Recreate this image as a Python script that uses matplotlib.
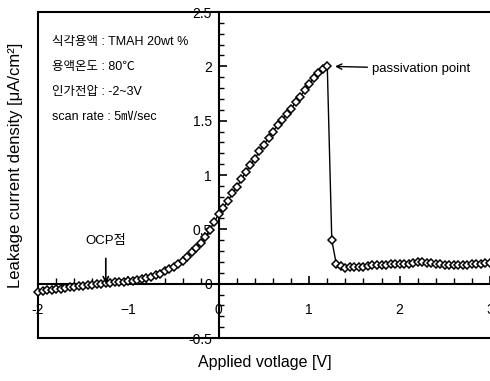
import matplotlib
matplotlib.use('Agg')
import matplotlib.pyplot as plt
from matplotlib.ticker import MultipleLocator

plt.rcParams['font.family'] = ['Liberation Sans', 'Noto Sans CJK KR', 'DejaVu Sans']

# scan voltage [V]
voltage = [
    -2.00, -1.95, -1.90, -1.85, -1.80, -1.75, -1.70, -1.65, -1.60, -1.55,
    -1.50, -1.45, -1.40, -1.35, -1.30, -1.25, -1.20, -1.15, -1.10, -1.05,
    -1.00, -0.95, -0.90, -0.85, -0.80, -0.75, -0.70, -0.65, -0.60, -0.55,
    -0.50, -0.45, -0.40, -0.35, -0.30, -0.25, -0.20, -0.15, -0.10, -0.05,
    0.00, 0.05, 0.10, 0.15, 0.20, 0.25, 0.30, 0.35, 0.40, 0.45,
    0.50, 0.55, 0.60, 0.65, 0.70, 0.75, 0.80, 0.85, 0.90, 0.95,
    1.00, 1.05, 1.10, 1.15, 1.20, 1.25, 1.30, 1.35, 1.40, 1.45,
    1.50, 1.55, 1.60, 1.65, 1.70, 1.75, 1.80, 1.85, 1.90, 1.95,
    2.00, 2.05, 2.10, 2.15, 2.20, 2.25, 2.30, 2.35, 2.40, 2.45,
    2.50, 2.55, 2.60, 2.65, 2.70, 2.75, 2.80, 2.85, 2.90, 2.95,
    3.00,
]

# leakage current density
current = [
    -0.080, -0.070, -0.062, -0.056, -0.050, -0.045, -0.040, -0.035, -0.030, -0.025,
    -0.020, -0.015, -0.010, -0.005, 0.000, 0.004, 0.008, 0.011, 0.014, 0.018,
    0.022, 0.027, 0.033, 0.042, 0.052, 0.063, 0.077, 0.093, 0.112, 0.133,
    0.157, 0.183, 0.213, 0.250, 0.290, 0.330, 0.378, 0.430, 0.495, 0.570,
    0.640, 0.700, 0.760, 0.830, 0.890, 0.960, 1.030, 1.090, 1.150, 1.220,
    1.280, 1.340, 1.400, 1.460, 1.510, 1.560, 1.610, 1.670, 1.720, 1.780,
    1.840, 1.890, 1.940, 1.980, 2.000, 0.400, 0.180, 0.160, 0.140, 0.150,
    0.150, 0.150, 0.155, 0.160, 0.170, 0.170, 0.175, 0.175, 0.180, 0.180,
    0.185, 0.185, 0.185, 0.190, 0.195, 0.195, 0.190, 0.190, 0.185, 0.180,
    0.175, 0.170, 0.170, 0.170, 0.170, 0.175, 0.180, 0.185, 0.185, 0.190,
    0.190,
]

info_lines = ['식각용액 : TMAH 20wt %', '용액온도 : 80℃', '인가전압 : -2~3V', 'scan rate : 5㎷/sec']

W, H = 490, 381
fig = plt.figure(figsize=(W / 100, H / 100), dpi=100)
rect = [38 / W, 1 - 338 / H, (490 - 38) / W, (338 - 12) / H]

# outer frame
frame = fig.add_axes(rect, zorder=0)
frame.set_xticks([])
frame.set_yticks([])
frame.spines['right'].set_visible(False)
for s in ['left', 'top', 'bottom']:
    frame.spines[s].set_linewidth(1.5)
frame.patch.set_visible(False)

ax = fig.add_axes(rect, zorder=1)
ax.patch.set_visible(False)
ax.set_xlim(-2, 3)
ax.set_ylim(-0.5, 2.5)
ax.spines['left'].set_position(('data', 0))
ax.spines['bottom'].set_position(('data', 0))
ax.spines['right'].set_visible(False)
ax.spines['top'].set_visible(False)
ax.spines['left'].set_linewidth(1.5)
ax.spines['bottom'].set_linewidth(1.5)

ax.xaxis.set_minor_locator(MultipleLocator(0.2))
ax.yaxis.set_minor_locator(MultipleLocator(0.1))
ax.set_xticks([-2, -1, 0, 1, 2, 3])
ax.set_xticklabels(['-2', '\u22121', '0', '1', '2', '3'])
ax.set_yticks([-0.5, 0, 0.5, 1, 1.5, 2, 2.5])
ax.set_yticklabels(['-0.5', '0', '0.5', '1', '1.5', '2', '2.5'])
ax.tick_params(axis='x', which='major', direction='in', length=6, width=1.2, pad=14, labelsize=10)
ax.tick_params(axis='x', which='minor', direction='in', length=4, width=1.0)
ax.tick_params(axis='y', which='major', direction='in', length=6, width=1.2, pad=5, labelsize=10)
ax.tick_params(axis='y', which='minor', direction='in', length=3.5, width=1.0)

ax.plot(voltage, current, color='black', lw=1.0, marker='D', ms=3.6,
        mfc='white', mec='black', mew=1.1, clip_on=False, zorder=3)

ax.annotate('passivation point', xy=(1.24, 2.0), xytext=(1.69, 1.98),
            fontsize=9.5, va='center', ha='left',
            arrowprops=dict(arrowstyle='->', color='black', lw=1.0,
                            shrinkA=1, shrinkB=3))
ax.annotate('OCP점', xy=(-1.25, 0.0), xytext=(-1.25, 0.39),
            fontsize=9.5, va='center', ha='center',
            family=['Liberation Sans', 'Noto Sans CJK KR'],
            arrowprops=dict(arrowstyle='->', color='black', lw=1.2,
                            shrinkA=6, shrinkB=0))

for i, line in enumerate(info_lines):
    fig.text(52 / W, 1 - (42 + 25 * i) / H, line, fontsize=9, va='center', ha='left',
             family=['Liberation Sans', 'Noto Sans CJK KR', 'DejaVu Sans'])

fig.text(265 / W, 1 - 362 / H, 'Applied votlage [V]', fontsize=11.5, ha='center', va='center')
fig.text(16 / W, 1 - 165 / H, 'Leakage current density [μA/cm²]', fontsize=12,
         ha='center', va='center', rotation=90)

fig.savefig('out.png', dpi=100)
